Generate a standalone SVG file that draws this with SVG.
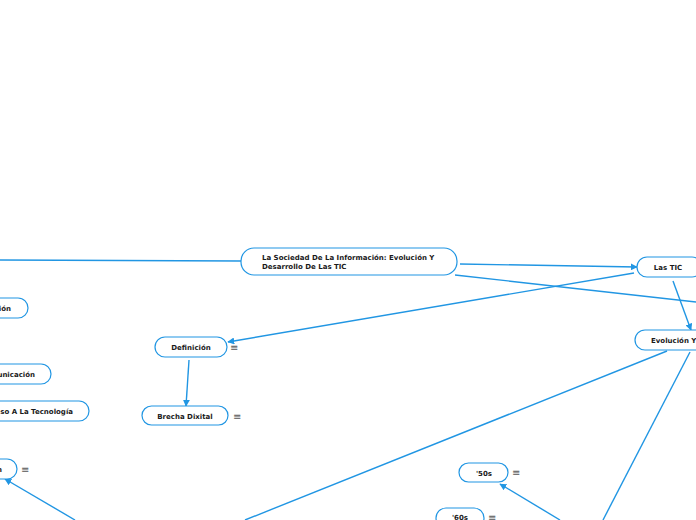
<svg xmlns="http://www.w3.org/2000/svg" width="696" height="520" viewBox="0 0 696 520">
<style>
.n{fill:#fff;stroke:#2196e3;stroke-width:1.2}
.t{font-family:"DejaVu Sans",Verdana,sans-serif;font-weight:bold;font-size:7px;fill:#1a1a1a}
.c{fill:none;stroke:#2196e3;stroke-width:1.4}
.m{font-family:"DejaVu Sans",sans-serif;font-size:10px;fill:#555}
</style>
<defs>
<marker id="a" viewBox="0 0 10 10" refX="9" refY="5" markerWidth="7" markerHeight="7" markerUnits="userSpaceOnUse" orient="auto">
<path d="M0,0L10,5L0,10z" fill="#2196e3"/>
</marker>
</defs>
<rect width="696" height="520" fill="#fff"/>
<g id="connectors">
<path class="c" d="M241,261L0,260"/>
<path class="c" d="M460,264L637,267" marker-end="url(#a)"/>
<path class="c" d="M455,275L696,302"/>
<path class="c" d="M634,273L228,342" marker-end="url(#a)"/>
<path class="c" d="M189,360L186,406" marker-end="url(#a)"/>
<path class="c" d="M673,281L691,330" marker-end="url(#a)"/>
<path class="c" d="M667,351L245,520"/>
<path class="c" d="M690,352L603,520"/>
<path class="c" d="M560,520L500,484" marker-end="url(#a)"/>
<path class="c" d="M75,520L5,479" marker-end="url(#a)"/>
</g>
<g id="central">
<rect class="n" x="241" y="248" width="216" height="27" rx="13"/>
<text class="t" x="262" y="260">La Sociedad De La Información: Evolución Y</text>
<text class="t" x="262" y="269">Desarrollo De Las TIC</text>
</g>
<g id="las-tic">
<rect class="n" x="637" y="257" width="65" height="20" rx="10"/>
<text class="t" x="668" y="270" text-anchor="middle">Las TIC</text>
</g>
<g id="evolucion">
<rect class="n" x="635" y="330" width="75" height="20" rx="10"/>
<text class="t" x="651" y="343">Evolución Y</text>
</g>
<g id="definicion">
<rect class="n" x="155" y="337" width="72" height="20" rx="10"/>
<text class="t" x="191" y="350" text-anchor="middle">Definición</text>
<text class="m" x="230" y="351">≡</text>
</g>
<g id="brecha">
<rect class="n" x="142" y="406" width="86" height="19" rx="9.5"/>
<text class="t" x="185" y="419" text-anchor="middle">Brecha Dixital</text>
<text class="m" x="233" y="420">≡</text>
</g>
<g id="n50s">
<rect class="n" x="459" y="463" width="49" height="19" rx="9.5"/>
<text class="t" x="484" y="476" text-anchor="middle">'50s</text>
<text class="m" x="512" y="476">≡</text>
</g>
<g id="n60s">
<rect class="n" x="436" y="508" width="48" height="20" rx="10"/>
<text class="t" x="460" y="520" text-anchor="middle">'60s</text>
<text class="m" x="488" y="521">≡</text>
</g>
<g id="left1">
<rect class="n" x="-40" y="298" width="68" height="20" rx="10"/>
<text class="t" x="11" y="311" text-anchor="end">ión</text>
</g>
<g id="left2">
<rect class="n" x="-40" y="364" width="91" height="20" rx="10"/>
<text class="t" x="35" y="377" text-anchor="end">unicación</text>
</g>
<g id="left3">
<rect class="n" x="-40" y="401" width="129" height="20" rx="10"/>
<text class="t" x="73" y="414" text-anchor="end">so A La Tecnología</text>
</g>
<g id="left4">
<rect class="n" x="-40" y="459" width="57" height="20" rx="10"/>
<text class="t" x="2" y="472" text-anchor="end">n</text>
<text class="m" x="21" y="473">≡</text>
</g>
</svg>
